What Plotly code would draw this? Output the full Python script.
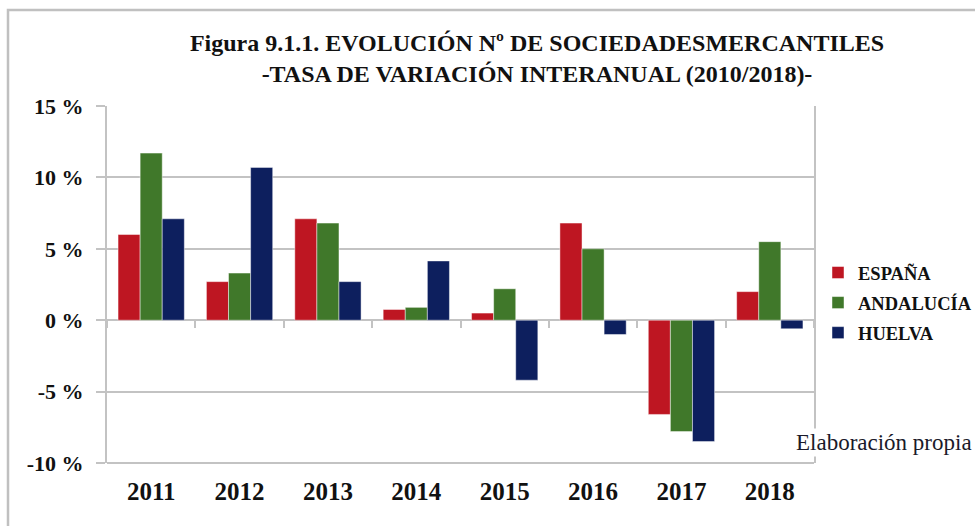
import plotly.graph_objects as go

# Interannual variation in number of trading companies (%)
years = ["2011", "2012", "2013", "2014", "2015", "2016", "2017", "2018"]
espana = [6.0, 2.7, 7.1, 0.75, 0.5, 6.8, -6.6, 2.0]
andalucia = [11.7, 3.3, 6.8, 0.9, 2.2, 5.0, -7.8, 5.5]
huelva = [7.1, 10.7, 2.7, 4.15, -4.2, -1.0, -8.5, -0.6]

series_names = ["ESPAÑA", "ANDALUCÍA", "HUELVA"]
series_colors = ["#BE1622", "#40782A", "#0D1F5E"]

y_tickvals = [-10, -5, 0, 5, 10, 15]
y_ticktext = ["-10 %", "-5 %", "0 %", "5 %", "10 %", "15 %"]

# figure geometry (pixels)
FIG_W, FIG_H = 975, 526
L, R, T, B = 107, 161, 106, 63
PW, PH = FIG_W - L - R, FIG_H - T - B


def px_x(p):
    return (p - L) / PW


def px_y(p):
    return (FIG_H - B - p) / PH


GRID = "#c3c3c3"
SERIF = "Liberation Serif"

fig = go.Figure()
for name, vals, col in zip(series_names, [espana, andalucia, huelva], series_colors):
    fig.add_trace(go.Bar(
        x=years, y=vals, name=name, legendgroup=name,
        marker=dict(color=col, line=dict(color="rgba(255,255,255,0.45)", width=1)),
    ))

y_min, y_max = -10, 15
zero_pos = (0 - y_min) / (y_max - y_min)   # the category axis crosses at 0 %
X_TICKLEN = 7
# labels sit below the plot floor although the axis itself runs along 0 %
label_standoff = int(round(zero_pos * PH + 18 - X_TICKLEN))

fig.update_layout(
    width=FIG_W, height=FIG_H,
    margin=dict(l=L, r=R, t=T, b=B, autoexpand=False),
    paper_bgcolor="white", plot_bgcolor="white",
    barmode="group", bargap=0.25, bargroupgap=0,
    title=dict(
        text="Figura 9.1.1. EVOLUCIÓN Nº DE SOCIEDADESMERCANTILES<br>-TASA DE VARIACIÓN INTERANUAL (2010/2018)-",
        x=537 / FIG_W, xref="container", xanchor="center",
        y=1 - 51 / FIG_H, yref="container", yanchor="top",
        font=dict(family=SERIF, size=24, color="#111111", weight="bold"),
    ),
    xaxis=dict(
        type="category", range=[-0.5, len(years) - 0.5],
        anchor="free", position=zero_pos, side="bottom",
        showline=False, showgrid=False, zeroline=False,
        ticks="outside", tickson="boundaries", ticklen=X_TICKLEN,
        tickwidth=2, tickcolor=GRID,
        ticklabelstandoff=label_standoff,
        tickfont=dict(family=SERIF, size=25, color="#111111", weight="bold"),
    ),
    yaxis=dict(
        range=[y_min, y_max], tickvals=y_tickvals, ticktext=y_ticktext,
        showgrid=True, gridcolor=GRID, gridwidth=1.5,
        zeroline=True, zerolinecolor=GRID, zerolinewidth=1.5,
        showline=True, linecolor=GRID, linewidth=2, mirror=True,
        ticks="outside", ticklen=9, tickwidth=1.5, tickcolor=GRID,
        ticklabelstandoff=8,
        tickfont=dict(family=SERIF, size=22, color="#111111", weight="bold"),
    ),
    legend=dict(
        x=px_x(818), xanchor="left", y=px_y(254), yanchor="top",
        font=dict(family=SERIF, size=18.5, color="#111111", weight="bold"),
        tracegroupgap=3, bgcolor="rgba(0,0,0,0)",
    ),
    showlegend=True,
)

# floor line of the plot area
fig.add_shape(type="line", xref="paper", yref="paper", x0=0, x1=1, y0=0, y1=0,
              line=dict(color=GRID, width=2), layer="below")

# source note
fig.add_annotation(
    text="Elaboración propia", xref="paper", yref="paper",
    x=px_x(794), y=px_y(442), xanchor="left", yanchor="middle",
    showarrow=False, bgcolor="white",
    font=dict(family=SERIF, size=23, color="#1a1a2a"),
)

# outer frame of the chart area
fig.add_shape(type="rect", xref="paper", yref="paper",
              x0=px_x(8), x1=px_x(FIG_W + 20), y0=px_y(FIG_H + 20), y1=px_y(10),
              line=dict(color="#c0c0c0", width=2.5), fillcolor="rgba(0,0,0,0)", layer="below")

fig.write_html("out.html")
